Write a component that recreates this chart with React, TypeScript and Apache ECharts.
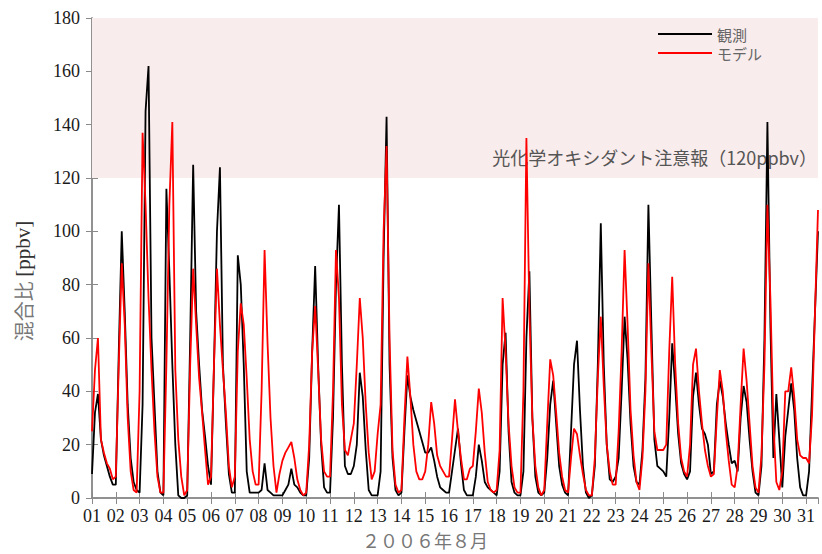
import React, { useEffect, useRef } from "react";
import * as echarts from "echarts";

// Sampling: one value every 3 hours, starting 2006-08-01 00h
const HOURS_PER_SAMPLE = 3;
const X_MAX_HOURS = 732; // axis ends at Aug 31, 12h
const HOURS_PER_DAY = 24;
const Y_MIN = 0;
const Y_MAX = 180;
const Y_INTERVAL = 20;
const ALERT_LEVEL = 120;

const DAY_LABELS = [
  "01", "02", "03", "04", "05", "06", "07", "08", "09", "10",
  "11", "12", "13", "14", "15", "16", "17", "18", "19", "20",
  "21", "22", "23", "24", "25", "26", "27", "28", "29", "30", "31",
];

const SERIES_NAMES = ["観測", "モデル"];

// 観測 (observed), ppbv, every 3 h
const observed = [
  9, 32, 39, 22, 16, 12, 8, 5, // 01
  5, 55, 100, 70, 35, 15, 6, 3, // 02
  2, 35, 145, 162, 60, 35, 10, 2, // 03
  1, 116, 85, 50, 20, 1, 0, 0, // 04
  1, 60, 125, 70, 50, 33, 23, 12, // 05
  5, 50, 100, 124, 50, 28, 9, 2, // 06
  2, 91, 80, 50, 10, 2, 2, 2, // 07
  2, 3, 13, 3, 2, 1, 1, 1, // 08
  1, 3, 5, 11, 5, 4, 2, 1, // 09
  1, 15, 55, 87, 50, 20, 4, 2, // 10
  2, 30, 80, 110, 50, 12, 9, 9, // 11
  12, 20, 47, 38, 18, 3, 1, 1, // 12
  1, 10, 90, 143, 50, 15, 3, 1, // 13
  2, 25, 46, 38, 33, 29, 25, 21, // 14
  17, 17, 19, 14, 8, 4, 3, 2, // 15
  2, 10, 18, 26, 13, 3, 1, 1, // 16
  1, 8, 20, 14, 6, 4, 3, 2, // 17
  1, 10, 50, 62, 25, 6, 2, 1, // 18
  1, 10, 60, 85, 30, 8, 2, 1, // 19
  2, 15, 35, 44, 28, 12, 5, 2, // 20
  1, 25, 50, 59, 33, 12, 2, 0, // 21
  1, 12, 50, 103, 50, 20, 7, 6, // 22
  8, 15, 40, 68, 52, 28, 12, 6, // 23
  5, 18, 45, 110, 65, 22, 12, 11, // 24
  10, 8, 30, 58, 42, 24, 13, 9, // 25
  7, 10, 38, 47, 35, 26, 24, 20, // 26
  9, 10, 35, 44, 38, 28, 20, 13, // 27
  14, 10, 30, 42, 36, 22, 10, 2, // 28
  1, 12, 60, 141, 65, 15, 39, 22, // 29
  4, 23, 33, 43, 33, 15, 4, 1, // 30
  1, 10, 40, 70, 100, // 31
];

// モデル (model), ppbv, every 3 h
const model = [
  25, 48, 60, 22, 17, 13, 11, 7, // 01
  8, 50, 88, 65, 30, 10, 3, 2, // 02
  40, 137, 110, 75, 48, 25, 8, 2, // 03
  2, 50, 110, 141, 48, 22, 8, 1, // 04
  3, 50, 86, 65, 45, 32, 18, 5, // 05
  8, 50, 86, 65, 48, 32, 12, 4, // 06
  8, 55, 73, 65, 45, 22, 10, 5, // 07
  5, 40, 93, 58, 30, 12, 2, 9, // 08
  14, 17, 19, 21, 15, 7, 3, 1, // 09
  2, 20, 55, 72, 48, 22, 10, 8, // 10
  8, 40, 93, 75, 35, 18, 16, 22, // 11
  28, 50, 75, 60, 35, 17, 7, 10, // 12
  24, 35, 100, 132, 60, 18, 5, 2, // 13
  3, 30, 53, 38, 20, 10, 7, 7, // 14
  10, 20, 36, 28, 16, 12, 10, 8, // 15
  8, 22, 37, 25, 15, 7, 7, 11, // 16
  12, 25, 41, 32, 17, 6, 3, 2, // 17
  3, 18, 75, 55, 28, 12, 4, 2, // 18
  2, 40, 135, 70, 30, 12, 4, 1, // 19
  3, 28, 52, 46, 32, 17, 8, 3, // 20
  2, 15, 26, 24, 16, 9, 3, 1, // 21
  1, 15, 45, 68, 42, 20, 10, 5, // 22
  5, 25, 55, 93, 65, 33, 16, 6, // 23
  3, 15, 40, 88, 55, 25, 18, 18, // 24
  18, 20, 55, 83, 50, 28, 15, 10, // 25
  8, 20, 50, 56, 40, 28, 18, 12, // 26
  8, 9, 30, 48, 40, 25, 14, 5, // 27
  4, 12, 35, 56, 44, 28, 12, 4, // 28
  2, 16, 50, 110, 75, 28, 6, 3, // 29
  10, 40, 40, 49, 38, 22, 16, 15, // 30
  15, 13, 31, 70, 108, // 31
];

const ALERT_LABEL = "光化学オキシダント注意報（120ppbv）";
const X_TITLE = "２００６年８月";

const SERIF = "'Liberation Serif', 'DejaVu Serif', serif";
const JP = "'Noto Sans CJK JP', 'Noto Sans', sans-serif";
const FRAME = "#8a8a8a";

export default function App() {
  const ref = useRef<HTMLDivElement>(null);

  useEffect(() => {
    if (!ref.current) return;
    const chart = echarts.init(ref.current, undefined, { renderer: "svg" });

    const toPairs = (arr: number[]) => arr.map((v, i) => [i * HOURS_PER_SAMPLE, v]);

    const xLabel = (v: number) =>
      v % HOURS_PER_DAY === 0 ? DAY_LABELS[v / HOURS_PER_DAY] ?? "" : "";

    const baseX = {
      type: "value" as const,
      min: 0,
      max: X_MAX_HOURS,
      interval: HOURS_PER_DAY,
      splitLine: { show: false },
      axisLine: { show: true, lineStyle: { color: FRAME, width: 1.5 } },
      axisTick: { show: true, inside: true, length: 6, lineStyle: { color: FRAME, width: 1 } },
    };
    const baseY = {
      type: "value" as const,
      min: Y_MIN,
      max: Y_MAX,
      interval: Y_INTERVAL,
      splitLine: { show: false },
      axisLine: { show: true, lineStyle: { color: FRAME, width: 1.5 } },
      axisTick: { show: true, inside: true, length: 6, lineStyle: { color: FRAME, width: 1 } },
    };

    chart.setOption({
      animation: false,
      backgroundColor: "#ffffff",
      grid: { left: 92, right: 4, top: 18, bottom: 56, containLabel: false },
      legend: {
        data: SERIES_NAMES,
        orient: "vertical",
        left: 658,
        top: 26,
        padding: 0,
        itemWidth: 54,
        itemHeight: 2,
        itemGap: 3,
        icon: "rect",
        selectedMode: false,
        textStyle: { fontFamily: JP, fontSize: 15, color: "#666", lineHeight: 16 },
      },
      xAxis: [
        {
          ...baseX,
          position: "bottom",
          axisLabel: {
            show: true,
            formatter: xLabel,
            fontFamily: SERIF,
            fontSize: 18,
            color: "#1a1a1a",
            margin: 9,
            showMaxLabel: false,
          },
        },
        { ...baseX, position: "top", axisLabel: { show: false } },
      ],
      yAxis: [
        {
          ...baseY,
          position: "left",
          axisLabel: { show: true, fontFamily: SERIF, fontSize: 18, color: "#1a1a1a", margin: 12 },
        },
        { ...baseY, position: "right", axisLabel: { show: false } },
      ],
      series: [
        {
          name: "alert-band",
          type: "line",
          data: [],
          silent: true,
          z: 1,
          markArea: {
            silent: true,
            itemStyle: { color: "#f9ecec" },
            data: [[{ yAxis: ALERT_LEVEL }, { yAxis: Y_MAX }]],
          },
        },
        {
          name: SERIES_NAMES[0],
          type: "line",
          data: toPairs(observed),
          showSymbol: false,
          symbol: "none",
          z: 3,
          lineStyle: { color: "#000000", width: 1.8 },
          itemStyle: { color: "#000000" },
        },
        {
          name: SERIES_NAMES[1],
          type: "line",
          data: toPairs(model),
          showSymbol: false,
          symbol: "none",
          z: 4,
          lineStyle: { color: "#ff0000", width: 1.8 },
          itemStyle: { color: "#ff0000" },
        },
      ],
      graphic: [
        {
          type: "text",
          right: 5,
          top: 148,
          z: 2,
          style: {
            text: ALERT_LABEL,
            fontFamily: JP,
            fontSize: 18,
            fill: "#555",
          },
        },
        {
          type: "text",
          x: 425,
          y: 540,
          style: {
            text: X_TITLE,
            fontFamily: JP,
            fontSize: 18,
            fill: "#777",
            align: "center",
            verticalAlign: "middle",
          },
        },
        {
          type: "text",
          x: 23,
          y: 281,
          rotation: Math.PI / 2,
          style: {
            text: "{a|混合比 }{b|[ppbv]}",
            align: "center",
            verticalAlign: "middle",
            rich: {
              a: { fontFamily: JP, fontSize: 20, fill: "#777" },
              b: { fontFamily: SERIF, fontSize: 21, fill: "#333" },
            },
          },
        },
      ],
    });

    return () => chart.dispose();
  }, []);

  return (
    <div
      ref={ref}
      style={{ position: "fixed", left: 0, top: 0, width: 822, height: 554, background: "#fff" }}
    />
  );
}
